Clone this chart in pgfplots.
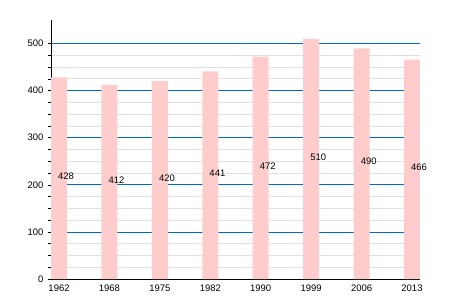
\documentclass[border=0pt]{standalone}
\usepackage{pgfplots}
\pgfplotsset{compat=1.18}
\usepackage{pgfplotstable}
\usepackage{fontspec}
\setmainfont{Liberation Sans}
\definecolor{barpink}{HTML}{FFCCCC}
\definecolor{gridblue}{HTML}{0066CC}
\definecolor{gridgray}{HTML}{E0E0E0}
\pgfplotstableread{
x year v
0 1962 428
1 1968 412
2 1975 420
3 1982 441
4 1990 472
5 1999 510
6 2006 490
7 2013 466
}\datatable
\begin{document}
\begin{tikzpicture}[x=1bp,y=1bp]
\useasboundingbox (0,0) rectangle (450,300);
\begin{axis}[
  at={(51bp,21bp)}, anchor=south west,
  scale only axis, width=369bp, height=259bp,
  xmin=-0.159, xmax=7.159, ymin=0, ymax=550,
  axis x line*=bottom, axis y line*=left,
  axis line style={black, line width=1pt, -},
  xtick=data, xticklabels={1962,1968,1975,1982,1990,1999,2006,2013},
  x tick style={draw=none},
  ytick={0,100,200,300,400,500},
  minor y tick num=3,
  ytick pos=left,
  tick align=outside,
  major tick length=3bp, minor tick length=3bp,
  y tick style={black, line width=0.6pt},
  ymajorgrids, yminorgrids,
  major grid style={gridblue, line width=0.8pt},
  minor grid style={gridgray, line width=0.8pt},
  ticklabel style={font=\fontsize{9.5}{11}\selectfont, text=black},
  /pgf/number format/assume math mode=true,
  /pgf/number format/1000 sep={},
  yticklabel style={xshift=-1bp},
  xticklabel style={yshift=1bp},
  clip=false,
]
\addplot[ybar, bar width=0.317, fill=barpink, draw=none, bar shift=0] table[x=x, y=v] {\datatable};
\addplot[only marks, mark=none, nodes near coords, point meta=explicit symbolic,
  every node near coord/.style={anchor=west, font=\fontsize{9.5}{11}\selectfont, text=black, inner sep=0pt, xshift=-1bp, yshift=2bp}]
  table[x=x, y expr=\thisrow{v}/2, meta=v] {\datatable};
\end{axis}
\end{tikzpicture}
\end{document}
